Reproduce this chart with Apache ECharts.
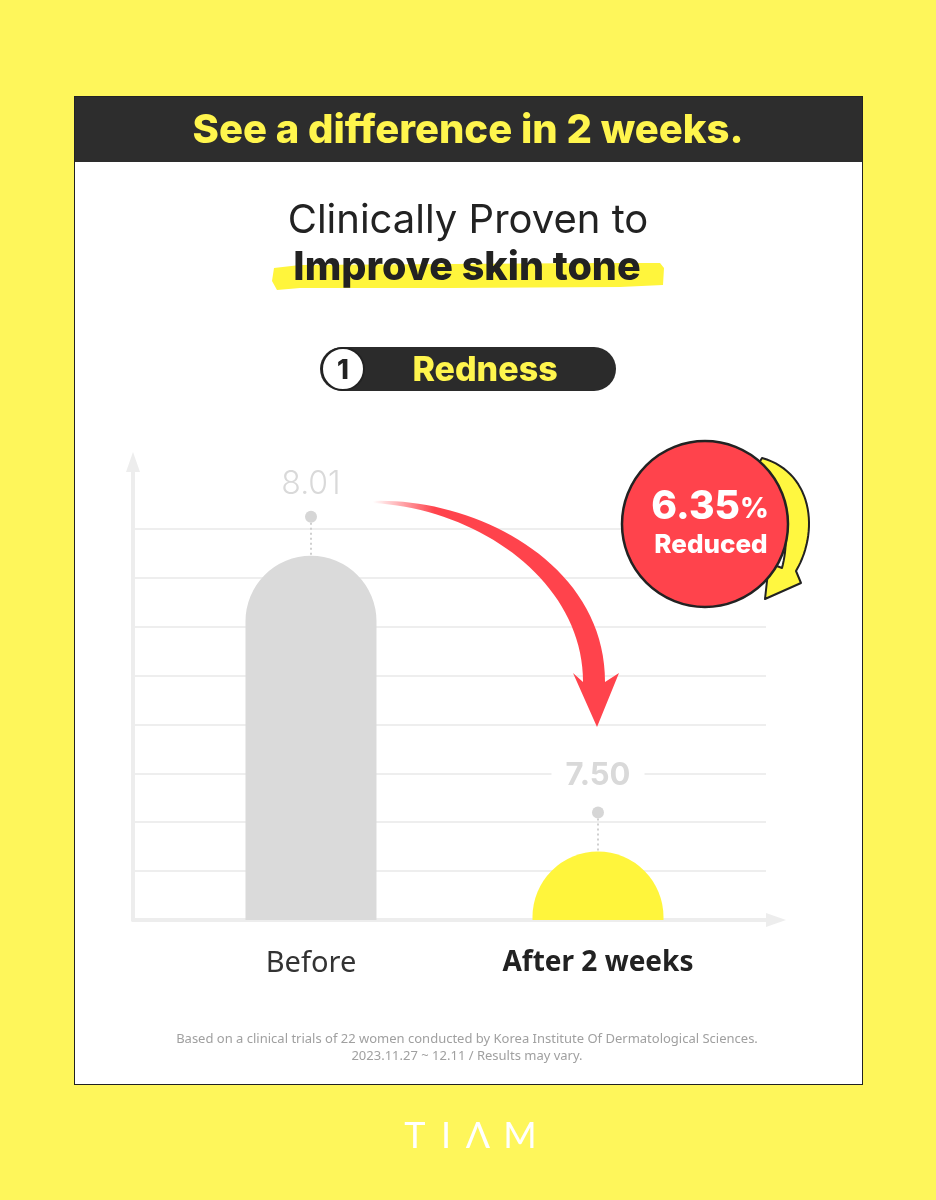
<!DOCTYPE html>
<html><head><meta charset="utf-8">
<script src="https://cdn.jsdelivr.net/npm/echarts@6/dist/echarts.min.js"></script>
<style>
html,body{margin:0;padding:0;width:936px;height:1200px;background:#FEF65B;overflow:hidden}
#card{position:absolute;left:74px;top:96px;width:787px;height:987px;background:#fff;border:1px solid #222}
#band{position:absolute;left:0;top:0;width:787px;height:65px;background:#2d2d2d}
#chart{position:absolute;left:0;top:0;width:936px;height:1200px}
</style></head><body>
<div id="card"><div id="band"></div></div>
<div id="chart"></div>
<script>
// ---- data ----
const categories = ['Before', 'After 2 weeks'];
const values = [8.01, 7.50];
const valueLabels = ['8.01', '7.50'];
const badgeNumber = '6.35';
const badgeUnit = '%';
const badgeText = 'Reduced';
const headline = 'See a difference in 2 weeks.';
const titleLine1 = 'Clinically Proven to';
const titleLine2 = 'Improve skin tone';
const sectionNo = '1';
const sectionName = 'Redness';
const footnotes = ['Based on a clinical trials of 22 women conducted by Korea Institute Of Dermatological Sciences.',
                   '2023.11.27 ~ 12.11 / Results may vary.'];
const gridlineCount = [0, 1, 2, 3, 4, 5, 6, 7, 8];

// ---- axis setup ----
const Y_MIN = 7.382, Y_MAX = 8.158;
const X_MIN = 0.3798, X_MAX = 2.5854;
const GL_MAX = 9.207;
const YEL = '#FFF53C';
const RED = '#FF434C';
const FONT_HEAD = 'Inter';
const FONT_BODY = 'Noto Sans';

const chart = echarts.init(document.getElementById('chart'), null, {renderer: 'canvas'});

const glColors = [];
for (let k = 0; k <= 10; k++) glColors.push(gridlineCount.indexOf(k) > 0 ? '#eeeeee' : 'rgba(0,0,0,0)');

function txt(x, y, text, font, fill, extra) {
  return Object.assign({type: 'text', x: x, y: y, z: 50,
    style: Object.assign({text: text, fill: fill, align: 'center', verticalAlign: 'middle', font: font}, extra || {})});
}
// sample a cubic bezier into points
function bez(p0, p1, p2, p3, n) {
  const pts = [];
  for (let i = 0; i <= n; i++) {
    const t = i / n, u = 1 - t;
    pts.push([u*u*u*p0[0] + 3*u*u*t*p1[0] + 3*u*t*t*p2[0] + t*t*t*p3[0],
              u*u*u*p0[1] + 3*u*u*t*p1[1] + 3*u*t*t*p2[1] + t*t*t*p3[1]]);
  }
  return pts;
}
const redArrowPts = [].concat(
  bez([373,501],[470,497],[605,560],[605,682], 40),
  [[619,673],[597,727],[573,673]],
  bez([583,682],[583,582],[480,509],[373,503], 40)
);
const yelArrowPts = [].concat(
  bez([762,458],[812,472],[820,530],[796,571], 30),
  [[801,583],[765,599],[769,563]],
  bez([782,568],[792,530],[782,490],[755,470], 30)
);

const option = {
  backgroundColor: 'transparent',
  animation: false,
  grid: {left: 133, right: 170, top: 470, bottom: 280},
  xAxis: {
    type: 'value', min: X_MIN, max: X_MAX,
    splitLine: {show: false}, axisTick: {show: false},
    axisLine: {show: true, onZero: false, lineStyle: {color: '#ededed', width: 4},
      symbol: ['none', 'triangle'], symbolSize: [14, 20], symbolOffset: [0, 10]},
    axisLabel: {
      margin: 29,
      formatter: function (v) {
        const r = Math.round(v);
        if (Math.abs(v - r) > 1e-6 || r < 1 || r > categories.length) return '';
        return (r === categories.length ? '{b|' : '{n|') + categories[r - 1] + '}';
      },
      rich: {
        n: {fontFamily: FONT_BODY, fontSize: 29, fontWeight: 400, color: '#333333'},
        b: {fontFamily: FONT_BODY, fontSize: 28, fontWeight: 700, color: '#222222'}
      }
    }
  },
  yAxis: [
    {type: 'value', min: Y_MIN, max: Y_MAX,
      splitLine: {show: false}, axisLabel: {show: false}, axisTick: {show: false},
      axisLine: {show: true, onZero: false, lineStyle: {color: '#ededed', width: 4},
        symbol: ['none', 'triangle'], symbolSize: [14, 20], symbolOffset: [0, 8]}},
    {type: 'value', min: 0, max: GL_MAX, interval: 1, position: 'left',
      axisLine: {show: false}, axisLabel: {show: false}, axisTick: {show: false},
      splitLine: {show: true, lineStyle: {color: glColors, width: 2}}}
  ],
  series: [{
    type: 'custom', yAxisIndex: 0, z: 5,
    data: categories.map(function (c, i) { return [i + 1, values[i]]; }),
    renderItem: function (params, api) {
      const i = params.dataIndex;
      const last = i === categories.length - 1;
      const top = api.coord([api.value(0), api.value(1)]);
      const baseY = params.coordSys.y + params.coordSys.height;
      const w = 131, cx = top[0];
      return {type: 'group', children: [
        {type: 'rect', shape: {x: cx - w / 2, y: top[1], width: w, height: baseY - top[1], r: [w / 2, w / 2, 0, 0]},
          style: {fill: last ? YEL : '#DADADA'}},
        {type: 'line', shape: {x1: cx, y1: top[1] - 33, x2: cx, y2: top[1]},
          style: {stroke: '#cfcfcf', lineWidth: 2, lineDash: [2, 3]}},
        {type: 'circle', shape: {cx: cx, cy: top[1] - 39, r: 6}, style: {fill: '#d6d6d6'}},
        {type: 'text', x: cx, y: top[1] - (last ? 76 : 71), style: {
          text: valueLabels[i], align: 'center', verticalAlign: 'middle',
          fontFamily: FONT_HEAD, fontSize: last ? 31 : 32, fontWeight: last ? 700 : 300,
          fill: '#d9d9d9', backgroundColor: '#ffffff', padding: [2, 14]}}
      ]};
    }
  }],
  graphic: [
    txt(468, 131, headline, '800 40px ' + FONT_HEAD, '#FFF54D'),
    txt(468, 221, titleLine1, '400 40px ' + FONT_HEAD, '#222222'),
    {type: 'polygon', z: 40, shape: {points: [[274,268],[300,265],[450,264],[600,263],[660,263],[664,268],[663,285],[620,287],[450,288],[300,288],[277,290],[272,281]]},
      style: {fill: YEL}},
    txt(467, 268, titleLine2, '800 39.5px ' + FONT_HEAD, '#222222'),
    {type: 'rect', z: 40, shape: {x: 320, y: 347, width: 296, height: 44, r: 22}, style: {fill: '#2b2b2b'}},
    {type: 'circle', z: 41, shape: {cx: 343, cy: 369, r: 21}, style: {fill: '#ffffff', stroke: '#222222', lineWidth: 2}},
    txt(343, 371, sectionNo, '800 27px ' + FONT_HEAD, '#222222'),
    txt(485, 371, sectionName, '800 34px ' + FONT_HEAD, '#FFF54D'),
    // red arrow
    {type: 'polygon', z: 60, shape: {points: redArrowPts},
      style: {fill: new echarts.graphic.LinearGradient(0, 0, 1, 0, [{offset: 0, color: 'rgba(255,67,76,0)'}, {offset: 0.25, color: RED}, {offset: 1, color: RED}])}},
    // yellow curved arrow behind badge
    {type: 'polygon', z: 60, shape: {points: yelArrowPts},
      style: {fill: '#FFF740', stroke: '#222222', lineWidth: 2, lineJoin: 'round'}},
    {type: 'circle', z: 61, shape: {cx: 705, cy: 524, r: 83}, style: {fill: RED, stroke: '#222222', lineWidth: 2.5}},
    {type: 'text', x: 710, y: 507, z: 62, style: {text: '{a|' + badgeNumber + '}{b|' + badgeUnit + '}', align: 'center', verticalAlign: 'middle',
      rich: {a: {fontFamily: FONT_HEAD, fontWeight: 800, fontSize: 39, fill: '#ffffff'}, b: {fontFamily: FONT_HEAD, fontWeight: 800, fontSize: 28, fill: '#ffffff', padding: [6, 0, 0, 0]}}}},
    {type: 'text', x: 711, y: 545, z: 62, style: {text: badgeText, align: 'center', verticalAlign: 'middle', font: '800 26px ' + FONT_HEAD, fill: '#ffffff'}},
    txt(467, 1039, footnotes[0], '400 13px ' + FONT_BODY, '#a0a0a0'),
    txt(467, 1056, footnotes[1], '400 13px ' + FONT_BODY, '#a0a0a0'),
    txt(415, 1136, 'T', '400 36px Lato', '#ffffff'),
    txt(446, 1136, 'I', '400 36px Lato', '#ffffff'),
    txt(478, 1136, 'Λ', '400 36px Lato', '#ffffff'),
    txt(520, 1136, 'M', '400 36px Lato', '#ffffff')
  ]
};
chart.setOption(option);
</script>
</body></html>
